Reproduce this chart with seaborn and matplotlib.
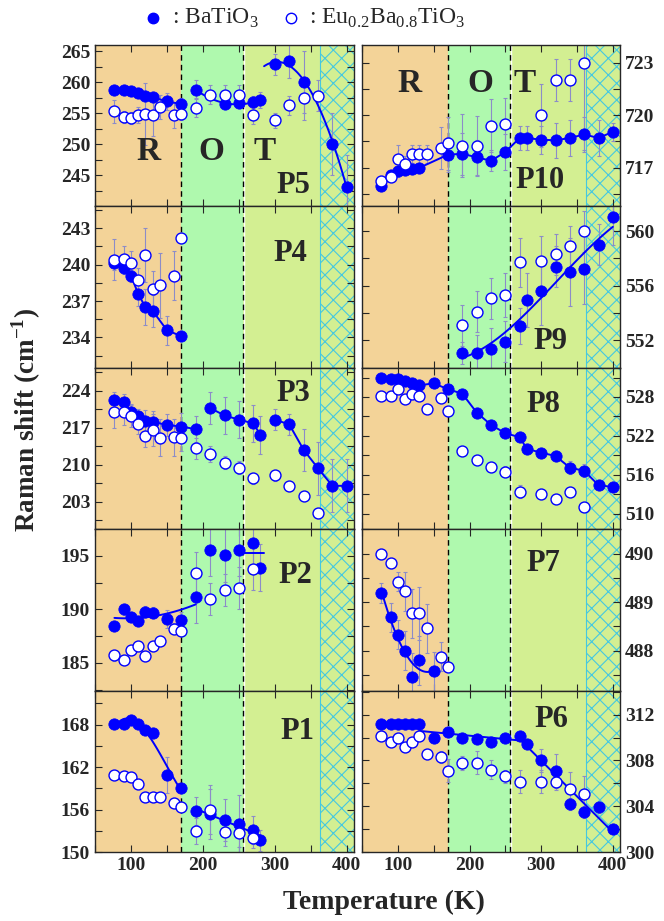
import numpy as np
import matplotlib
matplotlib.use('Agg')
import matplotlib.pyplot as plt
from matplotlib.lines import Line2D
from matplotlib.ticker import MultipleLocator, FixedLocator
import seaborn as sns

sns.set_style('ticks')
plt.rcParams['font.family'] = ['Liberation Serif', 'DejaVu Serif']
plt.rcParams['font.weight'] = 'bold'
plt.rcParams['mathtext.fontset'] = 'custom'
plt.rcParams['mathtext.rm'] = 'Liberation Serif:normal'
plt.rcParams['mathtext.bf'] = 'Liberation Serif:bold'
plt.rcParams['hatch.linewidth'] = 0.8

# phase boundaries (K)
T_RO, T_OT, T_HATCH = 170, 256, 363

# ---- data: temperature (K), Raman shift (cm-1), error ----
# P5
p5_T_f = [77, 90, 100, 110, 120, 130, 150, 170, 190, 230, 250, 270, 280, 300, 320, 340, 380, 400]
p5_v_f = [258.7, 258.7, 258.6, 258.3, 257.8, 257.6, 256.9, 256.5, 258.8, 256.5, 256.6, 256.8, 257.1, 262.9, 263.4, 260.1, 250.1, 243.2]
p5_e_f = [0.3, 0.3, 0.4, 0.4, 0.5, 0.5, 1.4, 1.0, 1.5, 0.8, 0.8, 1.0, 1.3, 1.7, 2.7, 5.0, 5.0, 5.0]
p5_T_o = [77, 90, 100, 110, 120, 130, 140, 160, 170, 190, 210, 230, 250, 270, 300, 320, 340, 360]
p5_v_o = [255.3, 254.4, 254.2, 254.7, 254.9, 254.8, 256.0, 254.7, 254.9, 255.9, 258.0, 258.0, 258.0, 254.8, 253.9, 256.3, 257.4, 257.8]
p5_e_o = [1.8, 1.0, 1.0, 1.3, 5.0, 3.5, 2.0, 2.0, 1.0, 1.5, 1.5, 1.5, 1.5, 1.5, 1.2, 1.5, 3.5, 2.5]

# P10
p10_T_f = [77, 90, 100, 110, 120, 130, 170, 190, 210, 230, 250, 270, 280, 300, 320, 340, 360, 380, 400]
p10_v_f = [715.96, 716.57, 716.8, 716.9, 716.95, 717.0, 717.75, 717.8, 717.6, 717.4, 717.9, 718.7, 718.7, 718.6, 718.57, 718.7, 718.9, 718.7, 719.05]
p10_e_f = [0.3, 0.3, 0.3, 0.3, 0.3, 0.3, 1.0, 1.2, 1.0, 0.6, 1.0, 0.7, 0.7, 0.8, 1.0, 1.0, 1.0, 1.0, 0.5]
p10_T_o = [77, 90, 100, 110, 120, 130, 140, 160, 170, 190, 210, 230, 250, 300, 320, 340, 360]
p10_v_o = [716.25, 716.5, 717.5, 717.2, 717.8, 717.8, 717.8, 718.15, 718.4, 718.25, 718.25, 719.4, 719.5, 720.0, 722.0, 722.0, 723.0]
p10_e_o = [0.3, 0.3, 0.8, 0.5, 0.5, 0.5, 0.5, 1.2, 1.5, 1.8, 1.7, 1.5, 1.5, 1.8, 1.2, 1.2, 5.0]

# P4
p4_T_f = [77, 90, 100, 110, 120, 130, 150, 170]
p4_v_f = [240.1, 239.7, 239.1, 237.6, 236.5, 236.2, 234.6, 234.1]
p4_e_f = [0.5, 0.5, 0.5, 1.0, 1.5, 1.3, 1.2, 0.3]
p4_T_o = [77, 90, 100, 110, 120, 130, 140, 160, 170]
p4_v_o = [240.4, 240.5, 240.1, 238.7, 240.8, 238.0, 238.3, 239.1, 242.2]
p4_e_o = [1.7, 1.0, 1.0, 1.0, 2.2, 1.5, 2.7, 2.0, 0.3]

# P9
p9_T_f = [190, 210, 230, 250, 270, 280, 300, 320, 340, 360, 380, 400]
p9_v_f = [551.1, 551.1, 551.4, 551.9, 553.05, 554.95, 555.6, 557.4, 557.0, 557.2, 559.0, 561.0]
p9_e_f = [0.8, 1.3, 1.5, 1.5, 1.3, 2.0, 2.5, 1.5, 2.5, 2.5, 1.5, 2.0]
p9_T_o = [190, 210, 230, 250, 270, 300, 320, 340, 360]
p9_v_o = [553.1, 554.1, 555.1, 555.3, 557.7, 557.8, 558.3, 558.9, 560.0]
p9_e_o = [1.5, 1.5, 1.5, 1.6, 1.8, 1.8, 1.5, 1.5, 1.5]

# P3
p3_T_f = [77, 90, 100, 110, 120, 130, 150, 170, 190, 210, 230, 250, 270, 280, 300, 320, 340, 360, 380, 400]
p3_v_f = [222.2, 221.9, 220.0, 219.1, 218.3, 218.1, 217.5, 217.2, 216.7, 220.7, 219.3, 218.5, 217.8, 215.6, 218.5, 217.6, 212.8, 209.3, 206.0, 206.0]
p3_e_f = [1.5, 1.5, 1.5, 1.5, 2.0, 2.0, 2.0, 2.5, 2.5, 3.0, 3.5, 3.5, 3.5, 3.5, 2.0, 2.0, 4.0, 5.0, 5.0, 5.0]
p3_T_o = [77, 90, 100, 110, 120, 130, 140, 160, 170, 190, 210, 230, 250, 270, 300, 320, 340, 360]
p3_v_o = [220.0, 220.0, 219.2, 217.7, 215.4, 216.6, 215.1, 215.2, 215.1, 213.1, 212.0, 210.4, 209.4, 207.4, 208.0, 206.0, 204.0, 200.9]
p3_e_o = [3.0, 2.5, 2.0, 2.0, 2.0, 3.0, 3.5, 3.5, 2.5, 2.0, 1.5, 1.2, 1.2, 1.0, 1.0, 1.0, 0.5, 0.5]

# P8
p8_T_f = [77, 90, 100, 110, 120, 130, 150, 170, 190, 210, 230, 250, 270, 280, 300, 320, 340, 360, 380, 400]
p8_v_f = [530.95, 530.8, 530.7, 530.5, 530.2, 529.8, 530.1, 529.2, 528.5, 525.6, 523.7, 522.4, 521.8, 520.0, 519.4, 518.9, 517.1, 516.6, 514.4, 514.1]
p8_e_f = [0.3, 0.3, 0.3, 0.3, 0.3, 0.3, 0.3, 0.3, 0.3, 0.4, 0.4, 0.4, 0.5, 0.5, 0.5, 0.8, 1.0, 1.0, 0.5, 0.5]
p8_T_o = [77, 90, 100, 110, 120, 130, 140, 160, 170, 190, 210, 230, 250, 270, 300, 320, 340, 360]
p8_v_o = [528.2, 528.1, 529.2, 527.7, 528.5, 528.1, 526.1, 527.8, 525.9, 519.7, 518.2, 517.2, 516.5, 513.4, 513.1, 512.2, 513.4, 511.1]
p8_e_o = [0.5, 0.5, 0.5, 0.5, 0.5, 0.5, 0.5, 0.5, 0.5, 0.3, 0.5, 0.5, 0.8, 1.0, 0.7, 0.5, 0.5, 0.3]

# P2
p2_T_f = [77, 90, 100, 110, 120, 130, 150, 170, 190, 210, 230, 250, 270, 280]
p2_v_f = [188.4, 190.0, 189.3, 188.9, 189.8, 189.7, 189.1, 189.0, 191.2, 195.6, 195.1, 195.6, 196.2, 193.9]
p2_e_f = [0.3, 0.5, 0.5, 0.5, 0.5, 0.5, 0.8, 0.8, 2.5, 2.5, 2.5, 2.5, 2.5, 2.2]
p2_T_o = [77, 90, 100, 110, 120, 130, 140, 160, 170, 190, 210, 230, 250, 270]
p2_v_o = [185.7, 185.25, 186.2, 186.6, 185.6, 186.6, 187.0, 188.2, 187.95, 193.4, 191.0, 191.8, 192.0, 193.8]
p2_e_o = [0.5, 0.3, 0.3, 0.3, 0.3, 0.3, 0.3, 0.5, 0.3, 2.0, 1.5, 1.5, 2.0, 2.0]

# P7
p7_T_f = [77, 90, 100, 110, 120, 130, 150]
p7_v_f = [489.19, 488.69, 488.33, 488.0, 487.46, 487.8, 487.58]
p7_e_f = [0.2, 0.3, 0.3, 0.4, 0.5, 0.5, 0.4]
p7_T_o = [77, 90, 100, 110, 120, 130, 140, 160, 170]
p7_v_o = [490.0, 489.8, 489.42, 489.22, 488.77, 488.77, 488.46, 487.88, 487.67]
p7_e_o = [0.1, 0.1, 0.2, 0.4, 0.5, 0.55, 0.5, 0.3, 0.1]

# P1
p1_T_f = [77, 90, 100, 110, 120, 130, 150, 170, 190, 210, 230, 250, 270, 280]
p1_v_f = [168.1, 168.1, 168.6, 168.1, 167.3, 166.8, 160.9, 159.0, 155.8, 155.35, 154.5, 154.0, 153.1, 151.65]
p1_e_f = [0.3, 0.3, 0.3, 0.3, 0.3, 0.3, 2.5, 0.5, 2.0, 3.5, 3.0, 4.0, 2.0, 1.5]
p1_T_o = [77, 90, 100, 110, 120, 130, 140, 160, 170, 190, 210, 230, 250, 270]
p1_v_o = [160.9, 160.75, 160.65, 159.6, 157.8, 157.7, 157.7, 156.9, 156.3, 153.0, 156.0, 152.8, 152.7, 152.0]
p1_e_o = [0.3, 0.3, 0.3, 0.3, 0.3, 0.3, 0.3, 0.3, 0.3, 1.8, 3.5, 2.0, 2.0, 1.5]

# P6
p6_T_f = [77, 90, 100, 110, 120, 130, 150, 170, 190, 210, 230, 250, 270, 280, 300, 320, 340, 360, 380, 400]
p6_v_f = [311.2, 311.2, 311.2, 311.2, 311.2, 311.2, 310.0, 310.45, 310.0, 309.9, 309.6, 310.0, 310.15, 309.4, 308.0, 307.1, 304.2, 303.5, 303.9, 302.0]
p6_e_f = [0.2, 0.2, 0.2, 0.2, 0.2, 0.2, 0.3, 0.3, 0.3, 0.3, 0.3, 0.3, 0.3, 0.3, 1.0, 1.5, 0.5, 0.5, 0.5, 0.3]
p6_T_o = [77, 90, 100, 110, 120, 130, 140, 160, 170, 190, 210, 230, 250, 270, 300, 320, 340, 360]
p6_v_o = [310.1, 309.6, 309.95, 309.2, 309.6, 310.1, 308.6, 308.3, 307.1, 307.8, 307.8, 307.2, 306.6, 306.15, 306.15, 306.15, 305.5, 305.1]
p6_e_o = [0.3, 0.3, 0.3, 0.3, 0.3, 0.3, 0.3, 0.5, 1.0, 0.6, 1.0, 0.8, 0.6, 1.0, 1.0, 0.7, 1.5, 1.5]

# fit segments: (Tmin, Tmax, degree or None for connect, draw-from, draw-to)
p5_fits = [(77, 170, None), (190, 280, 2), (300, 400, 2, 285, 400)]
p10_fits = [(77, 400, None)]
p4_fits = [(77, 170, None)]
p9_fits = [(190, 400, 3)]
p3_fits = [(77, 190, None), (210, 280, None), (300, 400, None)]
p8_fits = [(77, 400, None)]
p2_fits = [(77, 190, 2), (250, 280, 0, 250, 285)]
p7_fits = [(77, 150, 2)]
p1_fits = [(77, 170, 3), (190, 280, 1)]
p6_fits = [(77, 130, 0), (130, 270, 1), (270, 400, 1)]

# axis settings per panel: ylim, labelled ticks, minor step
p5_ax = ((240, 266), [245, 250, 255, 260, 265], 2.5)
p10_ax = ((714.8, 724), [717, 720, 723], 1.5)
p4_ax = ((231.5, 244.8), [234, 237, 240, 243], 1.5)
p9_ax = ((550, 561.8), [552, 556, 560], 2)
p3_ax = ((197.8, 228.3), [203, 210, 217, 224], 3.5)
p8_ax = ((507.6, 532.5), [510, 516, 522, 528], 3)
p2_ax = ((182.4, 197.5), [185, 190, 195], 2.5)
p7_ax = ((487.18, 490.5), [488, 489, 490], 0.5)
p1_ax = ((150, 172.8), [150, 156, 162, 168], 3)
p6_ax = ((300, 314.1), [300, 304, 308, 312], 2)

panels = [
    ('P5', p5_T_f, p5_v_f, p5_e_f, p5_T_o, p5_v_o, p5_e_o, p5_fits, p5_ax, (0.766, 0.13)),
    ('P10', p10_T_f, p10_v_f, p10_e_f, p10_T_o, p10_v_o, p10_e_o, p10_fits, p10_ax, (0.69, 0.16)),
    ('P4', p4_T_f, p4_v_f, p4_e_f, p4_T_o, p4_v_o, p4_e_o, p4_fits, p4_ax, (0.753, 0.71)),
    ('P9', p9_T_f, p9_v_f, p9_e_f, p9_T_o, p9_v_o, p9_e_o, p9_fits, p9_ax, (0.729, 0.16)),
    ('P3', p3_T_f, p3_v_f, p3_e_f, p3_T_o, p3_v_o, p3_e_o, p3_fits, p3_ax, (0.766, 0.84)),
    ('P8', p8_T_f, p8_v_f, p8_e_f, p8_T_o, p8_v_o, p8_e_o, p8_fits, p8_ax, (0.703, 0.77)),
    ('P2', p2_T_f, p2_v_f, p2_e_f, p2_T_o, p2_v_o, p2_e_o, p2_fits, p2_ax, (0.772, 0.716)),
    ('P7', p7_T_f, p7_v_f, p7_e_f, p7_T_o, p7_v_o, p7_e_o, p7_fits, p7_ax, (0.703, 0.79)),
    ('P1', p1_T_f, p1_v_f, p1_e_f, p1_T_o, p1_v_o, p1_e_o, p1_fits, p1_ax, (0.781, 0.745)),
    ('P6', p6_T_f, p6_v_f, p6_e_f, p6_T_o, p6_v_o, p6_e_o, p6_fits, p6_ax, (0.735, 0.82)),
]

C_R, C_O, C_T = '#F3D398', '#AFF9AE', '#D3EF92'
C_HATCH = '#45C8E0'
C_ERR = '#8C8CC8'
BLUE = '#0000FF'

fig = plt.figure(figsize=(6.64, 9.21), dpi=100)

row_h = 161.4 / 921
for i, (name, Tf, vf, ef, To, vo, eo, fits, axs, lab) in enumerate(panels):
    row, col = i // 2, i % 2
    x0 = 95 / 664 if col == 0 else 362 / 664
    w = 259 / 664 if col == 0 else 258 / 664
    y0 = (921 - 45 - 161.4 * (row + 1)) / 921
    ax = fig.add_axes([x0, y0, w, row_h])
    Tf, vf, ef = np.array(Tf, float), np.array(vf), np.array(ef)
    To, vo, eo = np.array(To, float), np.array(vo), np.array(eo)

    # phase backgrounds
    ax.axvspan(40, T_RO, color=C_R, lw=0, zorder=0)
    ax.axvspan(T_RO, T_OT, color=C_O, lw=0, zorder=0)
    ax.axvspan(T_OT, 420, color=C_T, lw=0, zorder=0)
    ax.axvspan(T_HATCH, 420, facecolor='none', edgecolor=C_HATCH, hatch='xx', lw=0.8, zorder=0.5)
    ax.axvline(T_OT + 1.5, color='white', lw=1.0, zorder=1)
    for t in (T_RO, T_OT):
        ax.axvline(t, color='black', ls=(0, (4, 3)), lw=1.0, zorder=2)

    # error bars
    ax.errorbar(Tf, vf, yerr=ef, fmt='none', ecolor=C_ERR, elinewidth=0.8, capsize=1.5, capthick=0.8, zorder=3)
    ax.errorbar(To, vo, yerr=eo, fmt='none', ecolor=C_ERR, elinewidth=0.8, capsize=1.5, capthick=0.8, zorder=3)

    # guide / fit lines through BaTiO3 points
    for seg in fits:
        t0, t1, deg = seg[:3]
        sel = (Tf >= t0) & (Tf <= t1)
        if deg is None:
            xx, yy = Tf[sel], vf[sel]
        else:
            a, b = (seg[3], seg[4]) if len(seg) > 3 else (t0, t1)
            coef = np.polyfit(Tf[sel], vf[sel], deg)
            xx = np.linspace(a, b, 60)
            yy = np.polyval(coef, xx)
        sns.lineplot(x=xx, y=yy, ax=ax, color=BLUE, lw=1.4, sort=False, estimator=None, zorder=4)

    sns.scatterplot(x=Tf, y=vf, ax=ax, color=BLUE, edgecolor=BLUE, s=66, linewidth=0.6, zorder=5)
    sns.scatterplot(x=To, y=vo, ax=ax, color='white', edgecolor=BLUE, s=62, linewidth=1.0, zorder=6)

    ax.set_xlim(50, 410)
    ax.set_ylim(*axs[0])
    ax.yaxis.set_major_locator(FixedLocator(axs[1]))
    ax.yaxis.set_minor_locator(MultipleLocator(axs[2]))
    ax.xaxis.set_major_locator(FixedLocator([100, 200, 300, 400]))
    ax.xaxis.set_minor_locator(MultipleLocator(50))
    ax.tick_params(which='both', direction='in', length=5, width=0.8,
                   top=True, bottom=True, left=True, right=True, labelsize=14)
    ax.tick_params(labelbottom=(row == 4), labelleft=(col == 0), labelright=(col == 1))
    for sp in ax.spines.values():
        sp.set_linewidth(1.0)
        sp.set_zorder(7)
    ax.set_xlabel('')
    ax.set_ylabel('')
    for lbl in ax.get_xticklabels() + ax.get_yticklabels():
        lbl.set_fontweight('bold')

    ax.text(lab[0], lab[1], name, transform=ax.transAxes, ha='center', va='center',
            fontsize=22, fontweight='bold', zorder=8)
    if row == 0:
        ys = 0.34 if col == 0 else 0.763
        xs = [0.206, 0.45, 0.653] if col == 0 else [0.186, 0.457, 0.632]
        for xl, letter in zip(xs, ['R', 'O', 'T']):
            ax.text(xl, ys, letter, transform=ax.transAxes, ha='center', va='center',
                    fontsize=24, fontweight='bold', zorder=8)

fig.text(0.04, 0.544, 'Raman shift (cm$^{\\mathbf{-1}}$)', rotation=90, ha='center', va='center',
         fontsize=19.5, fontweight='bold')
fig.text(0.578, 0.02, 'Temperature (K)', ha='center', va='center', fontsize=20, fontweight='bold')

# legend drawn at figure level
fig.add_artist(Line2D([153 / 664], [1 - 18 / 921], transform=fig.transFigure, ls='none',
                      marker='o', ms=7.5, mfc=BLUE, mec=BLUE))
fig.add_artist(Line2D([291 / 664], [1 - 18 / 921], transform=fig.transFigure, ls='none',
                      marker='o', ms=7.5, mfc='white', mec=BLUE, mew=1.0))
fig.text(172 / 664, 1 - 18 / 921, ': BaTiO$_3$', ha='left', va='center', fontsize=17, fontweight='normal')
fig.text(309 / 664, 1 - 18 / 921, ': Eu$_{0.2}$Ba$_{0.8}$TiO$_3$', ha='left', va='center',
         fontsize=17, fontweight='normal')

fig.savefig('out.png', dpi=100)
